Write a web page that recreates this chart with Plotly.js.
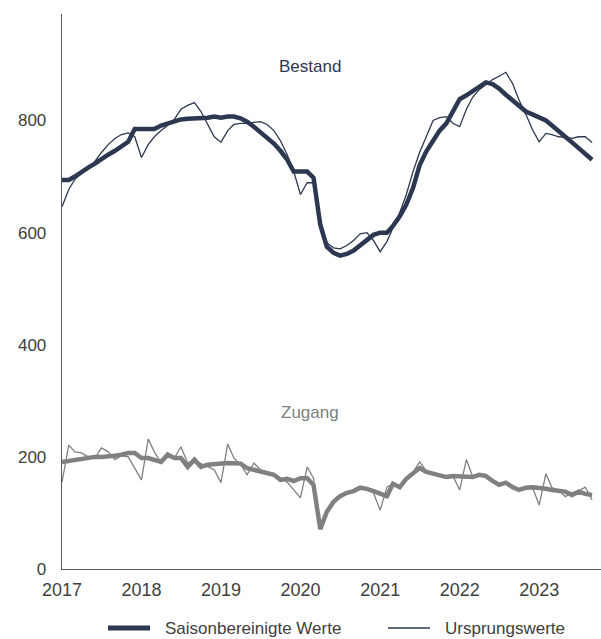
<!DOCTYPE html>
<html>
<head>
<meta charset="utf-8">
<script src="https://cdn.plot.ly/plotly-3.0.1.min.js"></script>
<style>
  html, body { margin: 0; padding: 0; background: #ffffff; }
  #chart { width: 601px; height: 639px; }
</style>
</head>
<body>
<div id="chart"></div>
<script>
// Monthly observations, January 2017 to September 2023
const startYear = 2017;
const nMonths = 81;

// Bestand (stock)
const bestandSaison = [
  694, 694, 700, 709, 716, 723, 732, 739, 746, 754, 762, 785,
  785, 785, 785, 791, 795, 798, 802, 803, 804, 803, 805, 807,
  805, 807, 807, 804, 798, 789, 780, 770, 759, 746, 730, 709,
  709, 709, 698, 614, 575, 564, 559, 562, 568, 577, 587, 596,
  600, 600, 612, 629, 650, 680, 720, 745, 764, 782, 795, 816,
  838, 845, 852, 860, 868, 865, 857, 846, 836, 825, 816, 811,
  805, 800, 791, 782, 771, 761, 750, 741, 730
];
const bestandUrsprung = [
  646, 677, 695, 705, 716, 727, 743, 757, 768, 775, 778, 771,
  734, 757, 771, 782, 791, 802, 820, 827, 832, 816, 793, 771,
  761, 782, 793, 795, 795, 796, 798, 793, 782, 764, 739, 709,
  668, 689, 689, 623, 582, 573, 571, 577, 586, 598, 600, 586,
  566, 584, 609, 636, 668, 709, 743, 771, 800, 805, 807, 795,
  789, 820, 841, 855, 864, 873, 879, 886, 866, 836, 811, 784,
  762, 777, 775, 771, 770, 768, 771, 771, 761
];

// Zugang (inflow)
const zugangSaison = [
  191, 193, 195, 196, 198, 200, 200, 200, 202, 204, 207, 207,
  198, 198, 195, 191, 204, 198, 198, 182, 195, 182, 186, 186,
  188, 189, 189, 188, 180, 177, 175, 173, 168, 159, 161, 157,
  162, 162, 150, 71, 102, 120, 130, 136, 139, 145, 143, 139,
  134, 130, 152, 146, 161, 170, 180, 173, 170, 168, 164, 166,
  166, 164, 164, 168, 166, 157, 150, 154, 146, 141, 145, 146,
  145, 143, 141, 139, 138, 132, 138, 134, 132
];
const zugangUrsprung = [
  155, 221, 209, 207, 200, 198, 216, 209, 195, 202, 200, 180,
  159, 232, 209, 189, 207, 198, 218, 189, 195, 188, 182, 177,
  154, 223, 198, 186, 168, 189, 177, 173, 170, 162, 155, 141,
  127, 182, 162, 75, 102, 120, 130, 136, 139, 145, 143, 136,
  105, 146, 152, 148, 161, 173, 191, 175, 168, 166, 164, 166,
  141, 195, 166, 168, 166, 157, 150, 154, 146, 141, 145, 146,
  114, 170, 145, 141, 129, 136, 139, 146, 123
];

const yTicks = [0, 200, 400, 600, 800];
const xTickYears = ['2017', '2018', '2019', '2020', '2021', '2022', '2023'];

const seriesNames = ['Saisonbereinigte Werte', 'Ursprungswerte'];
const labelBestand = 'Bestand';
const labelZugang = 'Zugang';

// month dates
const dates = [];
for (let i = 0; i < nMonths; i++) {
  const y = startYear + Math.floor(i / 12);
  const m = (i % 12) + 1;
  dates.push(y + '-' + (m < 10 ? '0' + m : m) + '-01');
}

const navy = '#2c3850';
const grey = '#808080';
const textColor = '#404040';

const traces = [
  { x: dates, y: bestandUrsprung, type: 'scatter', mode: 'lines',
    line: { color: navy, width: 1.3 }, name: seriesNames[1] },
  { x: dates, y: zugangUrsprung, type: 'scatter', mode: 'lines',
    line: { color: grey, width: 1.3 }, name: seriesNames[1] },
  { x: dates, y: bestandSaison, type: 'scatter', mode: 'lines',
    line: { color: navy, width: 4.5 }, name: seriesNames[0] },
  { x: dates, y: zugangSaison, type: 'scatter', mode: 'lines',
    line: { color: grey, width: 4.5 }, name: seriesNames[0] }
];

// legend (drawn in paper coordinates below the plot)
const plotL = 62, plotW = 539, plotB = 569, plotH = 555;
function px(xp) { return (xp - plotL) / plotW; }
function py(yp) { return (plotB - yp) / plotH; }
const legendY = 628;

const layout = {
  width: 601, height: 639,
  margin: { l: 62, r: 0, t: 14, b: 70 },
  paper_bgcolor: '#ffffff', plot_bgcolor: '#ffffff',
  font: { family: 'Liberation Sans, Arial, sans-serif', color: textColor, size: 17 },
  showlegend: false,
  xaxis: {
    type: 'date',
    range: ['2017-01-01', '2023-10-12'],
    tickvals: xTickYears.map(function (y) { return y + '-01-01'; }),
    ticktext: xTickYears,
    showgrid: false, zeroline: false,
    showline: true, linecolor: '#595959', linewidth: 1.3,
    ticks: '', ticklabelstandoff: 4,
    tickfont: { size: 18, color: textColor }
  },
  yaxis: {
    range: [0, 990],
    tickvals: yTicks,
    ticktext: yTicks.map(String),
    showgrid: false, zeroline: false,
    showline: true, linecolor: '#595959', linewidth: 1.3,
    ticks: '', ticklabelstandoff: 11,
    tickfont: { size: 17, color: textColor }
  },
  shapes: [
    { type: 'line', xref: 'paper', yref: 'paper', x0: px(108), x1: px(150), y0: py(legendY), y1: py(legendY),
      line: { color: navy, width: 5 } },
    { type: 'line', xref: 'paper', yref: 'paper', x0: px(388), x1: px(430), y0: py(legendY), y1: py(legendY),
      line: { color: navy, width: 1.3 } }
  ],
  annotations: [
    { xref: 'paper', yref: 'y', x: 0.46, y: 896, text: labelBestand, showarrow: false,
      font: { size: 17, color: navy } },
    { xref: 'paper', yref: 'y', x: 0.46, y: 279, text: labelZugang, showarrow: false,
      font: { size: 17, color: grey } },
    { xref: 'paper', yref: 'paper', x: px(163), y: py(legendY), xanchor: 'left', yanchor: 'middle',
      text: seriesNames[0], showarrow: false, font: { size: 17, color: textColor } },
    { xref: 'paper', yref: 'paper', x: px(443), y: py(legendY), xanchor: 'left', yanchor: 'middle',
      text: seriesNames[1], showarrow: false, font: { size: 17, color: textColor } }
  ]
};

Plotly.newPlot('chart', traces, layout, { displayModeBar: false, staticPlot: true });
</script>
</body>
</html>
